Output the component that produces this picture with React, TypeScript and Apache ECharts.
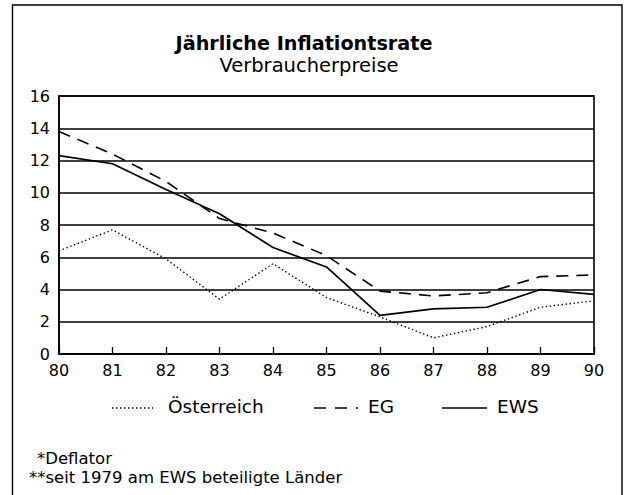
import React, { useEffect, useRef } from "react";
import * as echarts from "echarts";

const years = ["80", "81", "82", "83", "84", "85", "86", "87", "88", "89", "90"];
const oesterreich = [6.4, 7.7, 5.9, 3.4, 5.6, 3.5, 2.3, 1.0, 1.7, 2.9, 3.3];
const eg = [13.8, 12.4, 10.7, 8.4, 7.5, 6.1, 3.9, 3.6, 3.8, 4.8, 4.9];
const ews = [12.3, 11.8, 10.2, 8.7, 6.6, 5.4, 2.4, 2.8, 2.9, 4.0, 3.7];

const titleText = "Jährliche Inflationtsrate";
const subtitleText = "Verbraucherpreise";
const footnotes = ["*Deflator", "**seit 1979 am EWS beteiligte Länder"];
const seriesNames = ["Österreich", "EG", "EWS"];

const FONT = "'DejaVu Sans', Verdana, sans-serif";

export default function App() {
  const ref = useRef<HTMLDivElement>(null);
  useEffect(() => {
    if (!ref.current) return;
    const chart = echarts.init(ref.current, undefined, { renderer: "svg" });
    const txt = (text: string, x: number, y: number, size: number, align = "left", weight = "normal") => ({
      type: "text",
      x,
      y,
      silent: true,
      style: {
        text,
        fontFamily: FONT,
        fontSize: size,
        fontWeight: weight,
        lineHeight: size,
        fill: "#000",
        align,
        verticalAlign: "middle",
      },
    });
    chart.setOption({
      animation: false,
      backgroundColor: "#fff",
      textStyle: { fontFamily: FONT, color: "#000" },
      grid: { left: 59, right: 35, top: 96, bottom: 141, containLabel: false },
      xAxis: {
        type: "category",
        data: years,
        boundaryGap: false,
        axisLine: { show: true, lineStyle: { color: "#000", width: 1.6 } },
        axisTick: { show: true, inside: true, length: 7, lineStyle: { color: "#000", width: 1.3 } },
        axisLabel: { color: "#000", fontSize: 16, fontFamily: FONT, margin: 8 },
        splitLine: { show: false },
      },
      yAxis: {
        type: "value",
        min: 0,
        max: 16,
        interval: 2,
        axisLine: { show: true, lineStyle: { color: "#000", width: 1.6 } },
        axisTick: { show: false },
        axisLabel: { color: "#000", fontSize: 16, fontFamily: FONT, margin: 9 },
        splitLine: { show: true, lineStyle: { color: "#000", width: 1.7 } },
      },
      graphic: [
        {
          type: "rect",
          silent: true,
          shape: { x: 12.5, y: 5, width: 609.5, height: 520 },
          style: { fill: "none", stroke: "#000", lineWidth: 1.4 },
        },
        {
          type: "rect",
          silent: true,
          z: 10,
          shape: { x: 59, y: 96, width: 535, height: 258 },
          style: { fill: "none", stroke: "#000", lineWidth: 1.6 },
        },
        txt(titleText, 304, 43, 19.2, "center", "bold"),
        txt(subtitleText, 309, 65.5, 19.5, "center"),
        // legend: Österreich
        {
          type: "line",
          silent: true,
          shape: { x1: 112, y1: 408, x2: 153, y2: 408 },
          style: { stroke: "#000", lineWidth: 1.3, lineDash: [1.4, 2.6] },
        },
        txt(seriesNames[0], 168, 406.5, 18.5),
        // legend: EG
        {
          type: "line",
          silent: true,
          shape: { x1: 314, y1: 408, x2: 326, y2: 408 },
          style: { stroke: "#000", lineWidth: 1.5 },
        },
        {
          type: "line",
          silent: true,
          shape: { x1: 335, y1: 408, x2: 347, y2: 408 },
          style: { stroke: "#000", lineWidth: 1.5 },
        },
        {
          type: "line",
          silent: true,
          shape: { x1: 356, y1: 408, x2: 358, y2: 408 },
          style: { stroke: "#000", lineWidth: 1.5 },
        },
        txt(seriesNames[1], 368, 406.5, 18.5),
        // legend: EWS
        {
          type: "line",
          silent: true,
          shape: { x1: 442, y1: 408, x2: 487, y2: 408 },
          style: { stroke: "#000", lineWidth: 1.5 },
        },
        txt(seriesNames[2], 497, 406.5, 18.5),
        txt(footnotes[0], 37, 458, 16.5),
        txt(footnotes[1], 29, 477, 16.5),
      ],
      series: [
        {
          name: seriesNames[0],
          type: "line",
          data: oesterreich,
          showSymbol: false,
          lineStyle: { color: "#000", width: 1.4, type: [1.4, 2.6] },
          z: 5,
        },
        {
          name: seriesNames[1],
          type: "line",
          data: eg,
          showSymbol: false,
          lineStyle: { color: "#000", width: 1.6, type: [12, 8] },
          z: 5,
        },
        {
          name: seriesNames[2],
          type: "line",
          data: ews,
          showSymbol: false,
          lineStyle: { color: "#000", width: 1.7 },
          z: 5,
        },
      ],
    });
    return () => chart.dispose();
  }, []);
  return <div ref={ref} style={{ width: 629, height: 495, position: "absolute", left: 0, top: 0 }} />;
}
